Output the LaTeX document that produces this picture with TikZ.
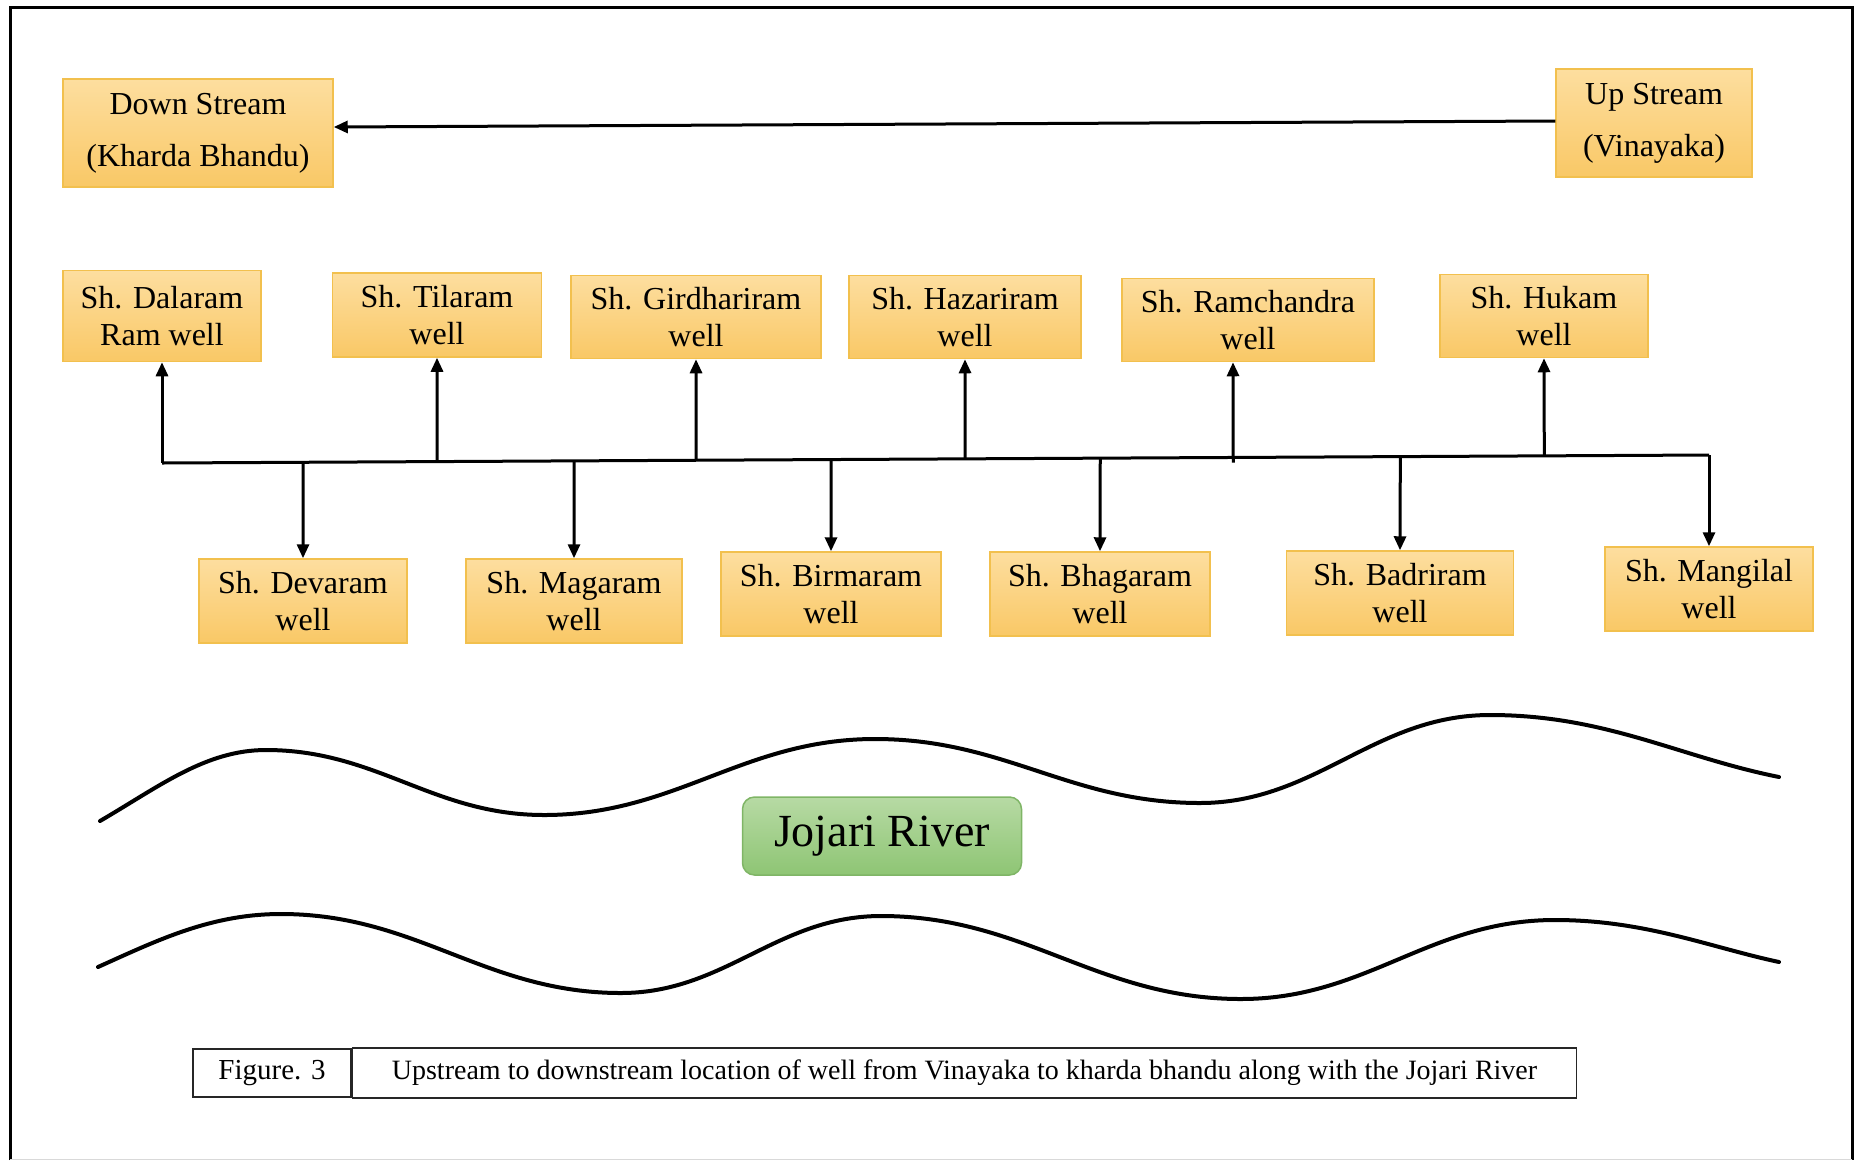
\documentclass[tikz,border=0pt]{standalone}
\usepackage{fontspec}
\setmainfont{Liberation Serif}
\usetikzlibrary{arrows.meta}
\definecolor{boxtop}{HTML}{FDDE9F}
\definecolor{boxbot}{HTML}{F9C866}
\definecolor{boxline}{HTML}{F2C04E}
\definecolor{grtop}{HTML}{B7DAA4}
\definecolor{grbot}{HTML}{8EC574}
\definecolor{grline}{HTML}{7FB566}
\begin{document}
\begin{tikzpicture}[x=1pt,y=-1pt,
  wellbox/.style={draw=boxline, line width=1.5pt, top color=boxtop, bottom color=boxbot,
    align=center, inner sep=0pt, text=black, font=\fontsize{32}{37}\selectfont},
  endbox/.style={wellbox, font=\fontsize{32}{52}\selectfont},
  conn/.style={line width=3pt, -{Triangle[length=14pt,width=12pt]}},
  bus/.style={line width=3pt, line join=miter},
  river/.style={line width=4pt, line cap=round},
  capbox/.style={draw=black!85, line width=1.5pt, inner sep=0pt, align=center}]
\useasboundingbox (0,0) rectangle (1854,1160);
% frame
\draw[line width=3pt] (10,1160) -- (10,7) -- (1852,7) -- (1852,1160);
\draw[black!15, line width=1pt] (10,1159) -- (1852,1159);

% stream ends
\node[endbox, minimum width=270pt, minimum height=108pt] (down) at (198,133) {Down Stream\\(Kharda Bhandu)};
\node[endbox, minimum width=196pt, minimum height=108pt] (up) at (1654,123) {Up Stream\\(Vinayaka)};
\draw[conn] ([yshift=2pt]up.west) -- ([yshift=6pt]down.east);

% top wells
\node[wellbox, minimum width=198pt, minimum height=91pt] (dal) at (162,316) {Sh. Dalaram\\Ram well};
\node[wellbox, minimum width=209pt, minimum height=84pt] (til) at (437,315) {Sh. Tilaram\\well};
\node[wellbox, minimum width=250pt, minimum height=83pt] (gir) at (696,317) {Sh. Girdhariram\\well};
\node[wellbox, minimum width=232pt, minimum height=83pt] (haz) at (965,317) {Sh. Hazariram\\well};
\node[wellbox, minimum width=252pt, minimum height=83pt] (ram) at (1248,320) {Sh. Ramchandra\\well};
\node[wellbox, minimum width=208pt, minimum height=83pt] (huk) at (1544,316) {Sh. Hukam\\well};

% bottom wells
\node[wellbox, minimum width=208pt, minimum height=84pt] (dev) at (303,601) {Sh. Devaram\\well};
\node[wellbox, minimum width=216pt, minimum height=84pt] (mag) at (574,601) {Sh. Magaram\\well};
\node[wellbox, minimum width=220pt, minimum height=84pt] (bir) at (831,594) {Sh. Birmaram\\well};
\node[wellbox, minimum width=220pt, minimum height=84pt] (bha) at (1100,594) {Sh. Bhagaram\\well};
\node[wellbox, minimum width=227pt, minimum height=84pt] (bad) at (1400,593) {Sh. Badriram\\well};
\node[wellbox, minimum width=208pt, minimum height=84pt] (man) at (1709,589) {Sh. Mangilal\\well};

% bus (slightly sloped, as in the original)
\coordinate (busL) at (dal.south |- 0,463);
\coordinate (busR) at (man.north |- 0,455);
\draw[bus] (busL) -- (busR);
\draw[conn] (busL) -- (dal.south);
\draw[conn] (busR) -- (man.north);
\foreach \n in {til,gir,haz,huk}{
  \draw[conn] (intersection of busL--busR and \n.south--\n.north) -- (\n.south);}
\coordinate (ramb) at ([xshift=-15pt]ram.south);
\coordinate (ramt) at ([xshift=-15pt]ram.north);
\draw[conn] ([yshift=-5pt]intersection of busL--busR and ramb--ramt) -- (ramb);
\foreach \n in {dev,mag,bir,bha,bad}{
  \draw[conn] (intersection of busL--busR and \n.south--\n.north) -- (\n.north);}

% river banks
\draw[river] (100,821) .. controls (160,786) and (206,750) .. (266,750)
  .. controls (377,750) and (433,815) .. (544,815)
  .. controls (676,815) and (743,739) .. (875,739)
  .. controls (1005,739) and (1070,803) .. (1200,803)
  .. controls (1316,803) and (1374,715) .. (1490,715)
  .. controls (1606,715) and (1679,757) .. (1779,777);
\draw[river] (98,967) .. controls (158,940) and (211,914) .. (281,914)
  .. controls (417,914) and (485,993) .. (621,993)
  .. controls (725,993) and (777,916) .. (881,916)
  .. controls (1025,916) and (1097,999) .. (1241,999)
  .. controls (1367,999) and (1429,920) .. (1555,920)
  .. controls (1645,920) and (1709,947) .. (1779,962);

\node[draw=grline, line width=1.5pt, top color=grtop, bottom color=grbot, rounded corners=12pt,
  minimum width=279pt, minimum height=78pt, inner sep=0pt, font=\fontsize{46}{52}\selectfont] (river) at (882,836) {Jojari River};

% caption
\node[capbox, minimum width=158pt, minimum height=48pt, font=\fontsize{29}{33}\selectfont] (fig) at (272,1073) {Figure. 3};
\node[capbox, minimum width=1224pt, minimum height=50pt, font=\fontsize{28}{32}\selectfont, anchor=west] (cap) at (fig.east) {Upstream to downstream location of well from Vinayaka to kharda bhandu along with the Jojari River};
\end{tikzpicture}
\end{document}
